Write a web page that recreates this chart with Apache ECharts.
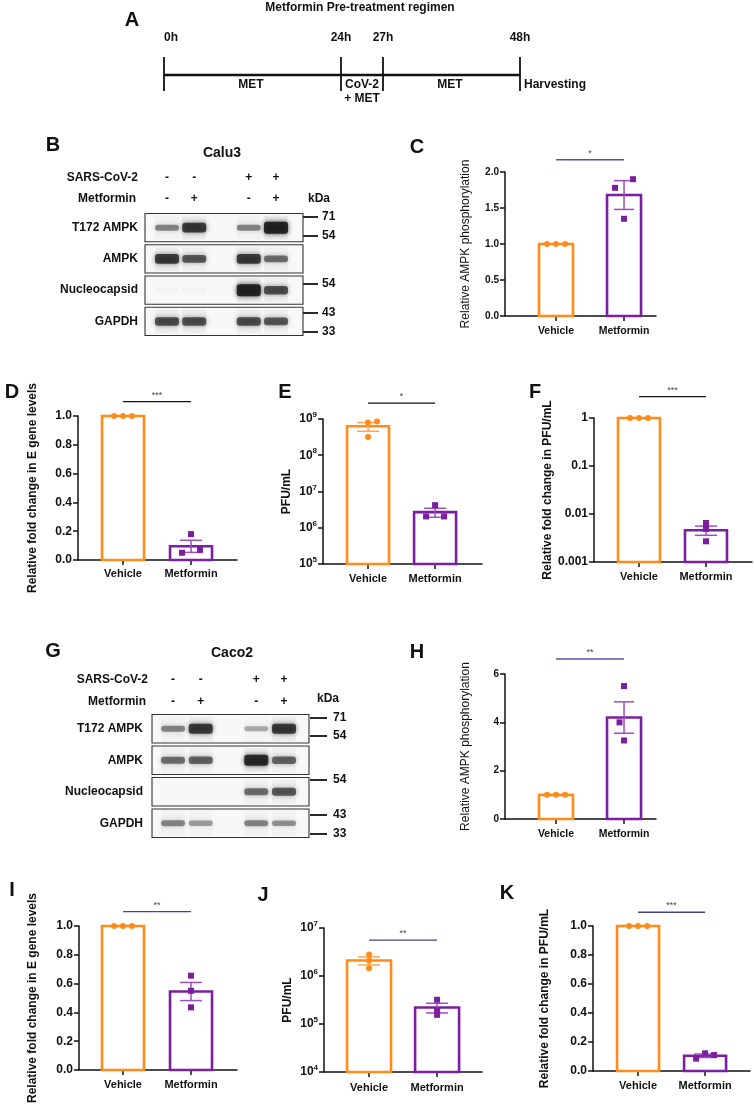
<!DOCTYPE html>
<html><head><meta charset="utf-8">
<script src="https://cdn.jsdelivr.net/npm/echarts@6/dist/echarts.min.js"></script>
<style>html,body{margin:0;padding:0;background:#fff}#c{width:754px;height:1104px}</style>
</head><body><div id="c"></div>
<script>
// ---------------- DATA ----------------
const groups = ['Vehicle', 'Metformin'];

// C: Calu3 relative AMPK phosphorylation
const cMeans = [1.0, 1.68];
const cSems = [0, 0.2];
const cVehicle = [1.0, 1.0, 1.0];
const cMetformin = [1.78, 1.35, 1.9];
// D: Calu3 relative fold change in E gene levels
const dMeans = [1.0, 0.095];
const dSems = [0, 0.042];
const dVehicle = [1.0, 1.0, 1.0];
const dMetformin = [0.05, 0.18, 0.07];
// E: Calu3 PFU/mL
const eMeans = [6.3e8, 2.7e6];
const eSems = [1.7e8, 0.75e6];
const eVehicle = [8.0e8, 3.2e8, 8.5e8];
const eMetformin = [2.05e6, 4.2e6, 2.05e6];
// F: Calu3 relative fold change in PFU/mL
const fMeans = [1.0, 0.0046];
const fSems = [0, 0.001];
const fVehicle = [1.0, 1.0, 1.0];
const fMetformin = [0.0065, 0.0049, 0.0027];
// H: Caco2 relative AMPK phosphorylation
const hMeans = [1.0, 4.2];
const hSems = [0, 0.65];
const hVehicle = [1.0, 1.0, 1.0];
const hMetformin = [5.5, 4.0, 3.25];
// I: Caco2 relative fold change in E gene levels
const iMeans = [1.0, 0.545];
const iSems = [0, 0.063];
const iVehicle = [1.0, 1.0, 1.0];
const iMetformin = [0.655, 0.55, 0.435];
// J: Caco2 PFU/mL
const jMeans = [2.1e6, 2.2e5];
const jSems = [0.4e6, 0.5e5];
const jVehicle = [2.8e6, 2.1e6, 1.45e6];
const jMetformin = [3.2e5, 1.9e5, 1.55e5];
// K: Caco2 relative fold change in PFU/mL
const kMeans = [1.0, 0.105];
const kSems = [0, 0.012];
const kVehicle = [1.0, 1.0, 1.0];
const kMetformin = [0.085, 0.122, 0.11];

const sigLabels = { C: '*', D: '***', E: '*', F: '***', H: '**', I: '**', J: '**', K: '***' };

// Western blots (band intensity 0..1, lanes: -/-, -/+, +/-, +/+)
const blotRows = ['T172 AMPK', 'AMPK', 'Nucleocapsid', 'GAPDH'];
const sarsCov2Signs = ['-', '-', '+', '+'];
const metforminSigns = ['-', '+', '-', '+'];
const calu3T172 = [0.5, 0.85, 0.5, 1.0];
const calu3Ampk = [0.85, 0.7, 0.85, 0.6];
const calu3Nucleocapsid = [0.03, 0.03, 1.0, 0.75];
const calu3Gapdh = [0.75, 0.75, 0.75, 0.7];
const caco2T172 = [0.5, 0.85, 0.35, 0.85];
const caco2Ampk = [0.6, 0.65, 0.95, 0.65];
const caco2Nucleocapsid = [0, 0, 0.6, 0.7];
const caco2Gapdh = [0.5, 0.4, 0.5, 0.45];
const kdaCalu3 = ['71', '54', '54', '43', '33'];
const kdaCaco2 = ['71', '54', '54', '43', '33'];

// Timeline (panel A)
const timeLabels = ['0h', '24h', '27h', '48h'];
const phaseLabels = ['MET', 'CoV-2', 'MET'];

// ---------------- STYLE / LAYOUT ----------------
const ORANGE = '#FF8C1A', PURPLE = '#7B1FA0';
const ORANGE_ERR = '#FFA64D', PURPLE_ERR = '#9C4EC0';
const FONT = '"Liberation Sans", Arial, Helvetica, sans-serif';
const INK = '#111';

const panels = [
  { key: 'C', grid: { left: 505, top: 172, width: 151, height: 144 }, xr: [0.25, 2.47], unit: 68,
    y: { type: 'value', min: 0, max: 2, interval: 0.5, dec: 1 }, means: cMeans, sems: cSems, pts: [cVehicle, cMetformin],
    jit: [[-1, 0, 1], [-1, 0, 1]], sigAt: 2.17, sigColor: '#5652A3', name: 'Relative AMPK phosphorylation', nameBold: false,
    nameGap: 33, tick: 10, cat: 10.5, catMargin: 10, barHalf: 17, capHalf: 10 },
  { key: 'D', grid: { left: 78, top: 416, width: 159, height: 144 }, xr: [0.338, 2.676], unit: 68,
    y: { type: 'value', min: 0, max: 1, interval: 0.2, dec: 1 }, means: dMeans, sems: dSems, pts: [dVehicle, dMetformin],
    jit: [[-1, 0, 1], [-1, 0, 1]], sigAt: 1.1, sigColor: '#111', name: 'Relative fold change in E gene levels', nameBold: true,
    nameGap: 39, tick: 12, cat: 11, catMargin: 8, barHalf: 21, capHalf: 11 },
  { key: 'E', grid: { left: 323, top: 419, width: 159, height: 145 }, xr: [0.328, 2.70], unit: 67,
    y: { type: 'log', min: 1e5, max: 1e9 }, means: eMeans, sems: eSems, pts: [eVehicle, eMetformin],
    jit: [[0, 0, 1], [-1, 0, 1]], sigAt: 2.75e9, sigColor: '#111', name: 'PFU/mL', nameBold: true,
    nameGap: 30, tick: 12, cat: 11, catMargin: 9, barHalf: 21, capHalf: 11 },
  { key: 'F', grid: { left: 594, top: 418, width: 158, height: 144 }, xr: [0.328, 2.687], unit: 67,
    y: { type: 'log', min: 0.001, max: 1, plain: true }, means: fMeans, sems: fSems, pts: [fVehicle, fMetformin],
    jit: [[-1, 0, 1], [0, 0, 0]], sigAt: 2.8, sigColor: '#111', name: 'Relative fold change in PFU/mL', nameBold: true,
    nameGap: 39, tick: 12, cat: 11, catMargin: 9, barHalf: 21, capHalf: 11 },
  { key: 'H', grid: { left: 505, top: 674, width: 151, height: 145 }, xr: [0.25, 2.47], unit: 68,
    y: { type: 'value', min: 0, max: 6, interval: 2, dec: 0 }, means: hMeans, sems: hSems, pts: [hVehicle, hMetformin],
    jit: [[-1, 0, 1], [0, -0.5, 0]], sigAt: 6.62, sigColor: '#5652A3', name: 'Relative AMPK phosphorylation', nameBold: false,
    nameGap: 33, tick: 10, cat: 10.5, catMargin: 10, barHalf: 17, capHalf: 10 },
  { key: 'I', grid: { left: 79, top: 926, width: 158, height: 144 }, xr: [0.353, 2.676], unit: 68,
    y: { type: 'value', min: 0, max: 1, interval: 0.2, dec: 1 }, means: iMeans, sems: iSems, pts: [iVehicle, iMetformin],
    jit: [[-1, 0, 1], [0, 0, 0]], sigAt: 1.1, sigColor: '#45458F', name: 'Relative fold change in E gene levels', nameBold: true,
    nameGap: 40, tick: 12, cat: 11, catMargin: 9, barHalf: 21, capHalf: 11 },
  { key: 'J', grid: { left: 324, top: 928, width: 158, height: 144 }, xr: [0.338, 2.66], unit: 68,
    y: { type: 'log', min: 1e4, max: 1e7 }, means: jMeans, sems: jSems, pts: [jVehicle, jMetformin],
    jit: [[0, 0, 0], [0, 0, 0]], sigAt: 5.6e6, sigColor: '#45458F', name: 'PFU/mL', nameBold: true,
    nameGap: 30, tick: 12, cat: 11, catMargin: 10, barHalf: 22, capHalf: 11 },
  { key: 'K', grid: { left: 593, top: 926, width: 157, height: 145 }, xr: [0.328, 2.67], unit: 67,
    y: { type: 'value', min: 0, max: 1, interval: 0.2, dec: 1 }, means: kMeans, sems: kSems, pts: [kVehicle, kMetformin],
    jit: [[-1, 0, 1], [-1, 0, 1]], sigAt: 1.095, sigColor: '#45458F', name: 'Relative fold change in PFU/mL', nameBold: true,
    nameGap: 42, tick: 12, cat: 11, catMargin: 9, barHalf: 21, capHalf: 11 }
];

const blots = [
  { grid: { left: 145, top: 212, width: 158, height: 125 }, xr: [0.193, 5.99], lanes: [1, 2, 4, 5],
    bands: [calu3T172, calu3Ampk, calu3Nucleocapsid, calu3Gapdh], labelMargin: 7, signOff: [34, 13] },
  { grid: { left: 152, top: 713, width: 157, height: 126 }, xr: [0.243, 5.90], lanes: [1, 2, 4, 5],
    bands: [caco2T172, caco2Ampk, caco2Nucleocapsid, caco2Gapdh], labelMargin: 9, signOff: [33, 11] }
];

// ---------------- BUILD ----------------
const grids = [], xAxes = [], yAxes = [], series = [];

function supLabel(v) {
  const e = Math.round(Math.log10(v));
  return '{b|10}{s|' + e + '}';
}

panels.forEach((p) => {
  const gi = grids.length;
  grids.push(Object.assign({ containLabel: false, outerBoundsMode: 'none' }, p.grid));
  xAxes.push({
    gridIndex: gi, type: 'value', min: p.xr[0], max: p.xr[1],
    axisLine: { show: true, onZero: false, lineStyle: { color: INK, width: 1.5 } },
    axisTick: { show: true, customValues: [1, 2], length: 5, lineStyle: { color: INK, width: 1.5 } },
    axisLabel: { show: true, customValues: [1, 2], formatter: (v) => groups[Math.round(v) - 1] || '',
      fontFamily: FONT, fontWeight: 'bold', fontSize: p.cat, color: INK, margin: p.catMargin },
    splitLine: { show: false }
  });
  const ya = {
    gridIndex: gi, type: p.y.type, min: p.y.min, max: p.y.max,
    name: p.name, nameLocation: 'middle', nameRotate: 90, nameGap: p.nameGap,
    nameTextStyle: { fontFamily: FONT, fontWeight: p.nameBold ? 'bold' : 'normal', fontSize: 12, color: INK },
    axisLine: { show: true, onZero: false, lineStyle: { color: INK, width: 1.5 } },
    axisTick: { show: true, length: 5, lineStyle: { color: INK, width: 1.5 } },
    splitLine: { show: false }, minorTick: { show: false }
  };
  if (p.y.type === 'value') {
    ya.interval = p.y.interval;
    ya.axisLabel = { fontFamily: FONT, fontWeight: 'bold', fontSize: p.tick, color: INK, margin: 6,
      formatter: (v) => v.toFixed(p.y.dec) };
  } else {
    ya.logBase = 10;
    if (p.y.plain) {
      ya.axisLabel = { fontFamily: FONT, fontWeight: 'bold', fontSize: p.tick, color: INK, margin: 6,
        formatter: (v) => { const e = Math.round(Math.log10(v)); return e >= 0 ? '1' : (Math.pow(10, e)).toFixed(-e); } };
    } else {
      ya.axisLabel = { margin: 6, formatter: supLabel,
        rich: { b: { fontFamily: FONT, fontWeight: 'bold', fontSize: 12, color: INK, lineHeight: 16 },
                s: { fontFamily: FONT, fontWeight: 'bold', fontSize: 8, color: INK, verticalAlign: 'top', lineHeight: 16, padding: [0, 0, 7, 0] } } };
    }
  }
  yAxes.push(ya);

  // bars + error bars
  series.push({
    type: 'custom', xAxisIndex: gi, yAxisIndex: gi, clip: false, z: 3, silent: true,
    data: groups.map((g, i) => [i + 1, p.means[i], p.sems[i]]),
    renderItem: (params, api) => {
      const x = api.value(0), m = api.value(1), s = api.value(2);
      const col = x === 1 ? ORANGE : PURPLE;
      const ecol = x === 1 ? ORANGE_ERR : PURPLE_ERR;
      const base = api.coord([x, p.y.min]);
      const top = api.coord([x, m]);
      const ch = [{ type: 'rect', shape: { x: top[0] - p.barHalf, y: top[1], width: 2 * p.barHalf, height: base[1] - top[1] },
        style: { fill: 'none', stroke: col, lineWidth: 2.6 } }];
      if (s > 0) {
        const hi = api.coord([x, m + s])[1], lo = api.coord([x, m - s])[1];
        const st = { stroke: ecol, lineWidth: 1.5 };
        ch.push({ type: 'line', shape: { x1: top[0], y1: hi, x2: top[0], y2: lo }, style: st });
        ch.push({ type: 'line', shape: { x1: top[0] - p.capHalf, y1: hi, x2: top[0] + p.capHalf, y2: hi }, style: st });
        ch.push({ type: 'line', shape: { x1: top[0] - p.capHalf, y1: lo, x2: top[0] + p.capHalf, y2: lo }, style: st });
      }
      return { type: 'group', children: ch };
    }
  });
  // individual points
  p.pts.forEach((arr, g) => {
    series.push({
      type: 'scatter', xAxisIndex: gi, yAxisIndex: gi, z: 4, silent: true,
      symbol: g === 0 ? 'circle' : 'rect', symbolSize: 6,
      itemStyle: { color: g === 0 ? ORANGE : PURPLE, opacity: 1 },
      data: arr.map((v, k) => [g + 1 + p.jit[g][k] * 9 / p.unit, v])
    });
  });
  // significance bar
  series.push({
    type: 'custom', xAxisIndex: gi, yAxisIndex: gi, clip: false, z: 3, silent: true,
    data: [[1, p.sigAt, 2]],
    renderItem: (params, api) => {
      const a = api.coord([api.value(0), api.value(1)]);
      const b = api.coord([api.value(2), api.value(1)]);
      return { type: 'group', children: [
        { type: 'line', shape: { x1: a[0], y1: a[1], x2: b[0], y2: a[1] }, style: { stroke: p.sigColor, lineWidth: 1.3 } },
        { type: 'text', style: { text: sigLabels[p.key], x: (a[0] + b[0]) / 2, y: a[1] - 2,
          textAlign: 'center', align: 'center', textVerticalAlign: 'bottom', verticalAlign: 'bottom',
          font: '9px ' + FONT, fill: '#444' } }
      ] };
    }
  });
});

blots.forEach((b) => {
  const gi = grids.length;
  grids.push(Object.assign({ containLabel: false, outerBoundsMode: 'none' }, b.grid));
  xAxes.push({ gridIndex: gi, type: 'value', min: b.xr[0], max: b.xr[1], show: false });
  yAxes.push({ gridIndex: gi, type: 'category', data: blotRows, inverse: true,
    axisLine: { show: false }, axisTick: { show: false }, splitLine: { show: false },
    axisLabel: { fontFamily: FONT, fontWeight: 'bold', fontSize: 12, color: INK, margin: b.labelMargin } });
  const mid = (b.xr[0] + b.xr[1]) / 2;
  series.push({
    type: 'custom', xAxisIndex: gi, yAxisIndex: gi, clip: false, silent: true,
    data: blotRows.map((r, ri) => [mid, ri].concat(b.bands[ri])),
    renderItem: (params, api) => {
      const ri = api.value(1);
      const c = api.coord([b.xr[0], ri]);
      const right = api.coord([b.xr[1], ri])[0];
      const h = api.size([0, 1])[1];
      const top = c[1] - h / 2 + 1.5, H = h - 3;
      const ch = [{ type: 'rect', shape: { x: c[0], y: top, width: right - c[0], height: H },
        style: { fill: '#f8f8f8', stroke: '#333', lineWidth: 1.1 } }];
      for (let i = 0; i < 4; i++) {
        const v = api.value(2 + i);
        if (!(v > 0)) continue;
        const lx = api.coord([b.lanes[i], ri])[0];
        const bh = 4 + 8 * v * v;
        // faint lane smear
        ch.push({ type: 'rect', shape: { x: lx - 12, y: top + 2, width: 24, height: H - 4 },
          style: { fill: 'rgba(0,0,0,' + (0.05 * v) + ')', shadowBlur: 4, shadowColor: 'rgba(0,0,0,' + (0.05 * v) + ')' } });
        ch.push({ type: 'rect', shape: { x: lx - 12, y: c[1] - bh / 2, width: 24, height: bh, r: Math.min(3, bh / 2) },
          style: { fill: 'rgba(25,25,25,' + (0.9 * v) + ')', shadowBlur: 5, shadowColor: 'rgba(0,0,0,' + (0.8 * v) + ')' } });
      }
      return { type: 'group', children: ch };
    }
  });
  // treatment signs
  series.push({
    type: 'custom', xAxisIndex: gi, yAxisIndex: gi, clip: false, silent: true,
    data: b.lanes.map((l, i) => [l, 0, i]),
    renderItem: (params, api) => {
      const i = api.value(2);
      const c = api.coord([api.value(0), 0]);
      const gTop = c[1] - api.size([0, 1])[1] / 2;
      const mk = (t, y) => ({ type: 'text', style: { text: t, x: c[0], y: y, textAlign: 'center', align: 'center',
        textVerticalAlign: 'middle', verticalAlign: 'middle', font: 'bold 12px ' + FONT, fill: INK } });
      return { type: 'group', children: [mk(sarsCov2Signs[i], gTop - b.signOff[0]), mk(metforminSigns[i], gTop - b.signOff[1])] };
    }
  });
});

// ---------------- STATIC ANNOTATIONS ----------------
const G = [];
function T(text, x, y, font, align, va, fill) {
  G.push({ type: 'text', silent: true, style: { text: text, x: x, y: y, font: font, fill: fill || INK,
    textAlign: align || 'center', align: align || 'center', textVerticalAlign: va || 'middle', verticalAlign: va || 'middle' } });
}
function L(x1, y1, x2, y2, w) {
  G.push({ type: 'line', silent: true, shape: { x1: x1, y1: y1, x2: x2, y2: y2 }, style: { stroke: INK, lineWidth: w || 1.5 } });
}
const LET = 'bold 20px ' + FONT;
[['A', 132, 20], ['B', 53, 145], ['C', 417, 147], ['D', 12, 392], ['E', 285, 392], ['F', 535, 392],
 ['G', 53, 651], ['H', 417, 652], ['I', 12, 890], ['J', 263, 895], ['K', 507, 893]].forEach(a => T(a[0], a[1], a[2], LET));

// Panel A schematic
const NB = 'bold 12px ' + FONT;
T('Metformin Pre-treatment regimen', 360, 8, 'bold 12px ' + FONT);
const tX = [164, 341, 383, 520];
tX.forEach((x, i) => { L(x, 57, x, 91, 1.8); T(timeLabels[i], x, 38, NB, i === 0 ? 'left' : 'center'); });
L(164, 75, 520, 75, 2.4);
T(phaseLabels[0], 251, 85, NB);
T(phaseLabels[1], 362, 85, NB);
T('+ MET', 362, 99, NB);
T(phaseLabels[2], 450, 85, NB);
T('Harvesting', 524, 85, NB, 'left');

// Blot annotations
const B12 = 'bold 12px ' + FONT;
T('Calu3', 222, 153, 'bold 14px ' + FONT);
T('SARS-CoV-2', 138, 178, B12, 'right');
T('Metformin', 136, 199, B12, 'right');
T('kDa', 319, 199, B12);
[217, 236, 284, 313, 332].forEach((y, i) => { L(303, y, 318, y, 1.8); T(kdaCalu3[i], 322, y, B12, 'left'); });
T('Caco2', 232, 653, 'bold 14px ' + FONT);
T('SARS-CoV-2', 148, 680, B12, 'right');
T('Metformin', 146, 702, B12, 'right');
T('kDa', 328, 699, B12);
[718, 736, 780, 815, 834].forEach((y, i) => { L(310, y, 327, y, 1.8); T(kdaCaco2[i], 333, y, B12, 'left'); });

const chart = echarts.init(document.getElementById('c'), null, { renderer: 'canvas' });
chart.setOption({
  backgroundColor: '#fff',
  animation: false,
  grid: grids, xAxis: xAxes, yAxis: yAxes, series: series,
  graphic: { elements: G }
});
</script></body></html>
